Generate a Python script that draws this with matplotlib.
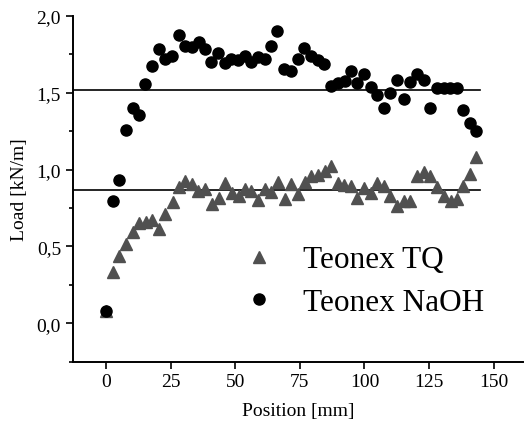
import matplotlib
matplotlib.use('Agg')
import matplotlib.pyplot as plt
from matplotlib.ticker import FuncFormatter, MultipleLocator

plt.rcParams['font.family'] = ['Liberation Serif', 'DejaVu Serif']

# Teonex NaOH (circles)
naoh_x = [0, 2.7, 5.05, 7.6, 10.4, 12.7, 15.3, 18.0, 20.4, 22.9, 25.7, 28.2, 30.5,
          33.4, 36.0, 38.4, 40.8, 43.5, 46.1, 48.5, 51.1, 53.7, 56.3, 58.9, 61.5,
          63.9, 66.3, 69.0, 71.7, 74.1, 76.7, 79.5, 82.0, 84.5, 87.1, 89.7, 92.3,
          94.6, 97.3, 99.7, 102.5, 105.0, 107.7, 110.0, 112.7, 115.2, 117.8, 120.4,
          122.9, 125.5, 128.0, 130.6, 133.2, 135.8, 138.1, 140.9, 143.3]
naoh_y = [0.08, 0.795, 0.933, 1.258, 1.399, 1.354, 1.554, 1.671, 1.786, 1.719, 1.741,
          1.872, 1.802, 1.799, 1.827, 1.782, 1.701, 1.756, 1.691, 1.721, 1.711, 1.736,
          1.701, 1.731, 1.721, 1.806, 1.899, 1.651, 1.641, 1.719, 1.792, 1.741, 1.711,
          1.686, 1.545, 1.560, 1.575, 1.639, 1.560, 1.621, 1.535, 1.487, 1.399, 1.498,
          1.580, 1.462, 1.567, 1.623, 1.584, 1.402, 1.530, 1.530, 1.528, 1.530, 1.389,
          1.302, 1.248]

# Teonex TQ (triangles)
tq_x = [0, 2.6, 5.2, 7.8, 10.4, 12.9, 15.5, 18.0, 20.4, 23.0, 25.9, 28.1, 30.7, 33.3,
        35.8, 38.4, 41.0, 43.6, 46.2, 48.8, 51.4, 53.7, 56.3, 58.9, 61.5, 63.9, 66.5,
        69.1, 71.7, 74.3, 76.9, 79.5, 82.2, 84.7, 87.1, 89.7, 92.1, 94.7, 97.3, 99.9,
        102.5, 104.8, 107.4, 110.0, 112.6, 115.4, 117.8, 120.4, 123.0, 125.5, 128.0,
        130.6, 133.3, 135.9, 138.3, 141.0, 143.3]
tq_y = [0.08, 0.334, 0.438, 0.514, 0.591, 0.651, 0.659, 0.670, 0.612, 0.710, 0.790,
        0.884, 0.926, 0.906, 0.862, 0.876, 0.775, 0.818, 0.912, 0.845, 0.828, 0.876,
        0.862, 0.801, 0.873, 0.856, 0.920, 0.811, 0.906, 0.844, 0.920, 0.955, 0.963,
        0.991, 1.024, 0.910, 0.899, 0.894, 0.818, 0.877, 0.850, 0.912, 0.890, 0.825,
        0.764, 0.796, 0.796, 0.955, 0.981, 0.955, 0.884, 0.828, 0.796, 0.807, 0.894,
        0.970, 1.079]

# mean levels (horizontal lines)
mean_levels = [1.52, 0.866]
mean_x = [-13, 144.5]

fig = plt.figure(figsize=(5.24, 4.31), dpi=100)
ax = fig.add_axes([0.139, 0.1585, 0.86, 0.8025])

for lvl in mean_levels:
    ax.plot(mean_x, [lvl, lvl], color='black', linewidth=1.2, zorder=1)

ax.plot(tq_x, tq_y, linestyle='none', marker='^', markersize=9, color='#505050',
        label='Teonex TQ', zorder=2)
ax.plot(naoh_x, naoh_y, linestyle='none', marker='o', markersize=8, color='black',
        label='Teonex NaOH', zorder=3)

ax.set_xlim(-12.8, 161.5)
ax.set_ylim(-0.25, 2.0)
ax.set_xticks([0, 25, 50, 75, 100, 125, 150])
ax.yaxis.set_major_locator(MultipleLocator(0.5))
ax.yaxis.set_minor_locator(MultipleLocator(0.25))
ax.yaxis.set_major_formatter(FuncFormatter(lambda v, p: f'{v:.1f}'.replace('.', ',')))

for side in ['top', 'right']:
    ax.spines[side].set_visible(False)
for side in ['left', 'bottom']:
    ax.spines[side].set_linewidth(1.4)
ax.tick_params(which='major', direction='out', length=5, width=1.2, labelsize=14)
ax.tick_params(which='minor', direction='out', length=3, width=1.2)

ax.set_xlabel('Position [mm]', fontsize=14, labelpad=8)
ax.set_ylabel('Load [kN/m]', fontsize=14, labelpad=6)

ax.legend(loc='upper left', bbox_to_anchor=(0.379, 0.336), frameon=False, fontsize=22.5,
          handlelength=1.0, handletextpad=0.9, labelspacing=0.42, borderpad=0,
          borderaxespad=0)

fig.savefig('out.png', dpi=100)
